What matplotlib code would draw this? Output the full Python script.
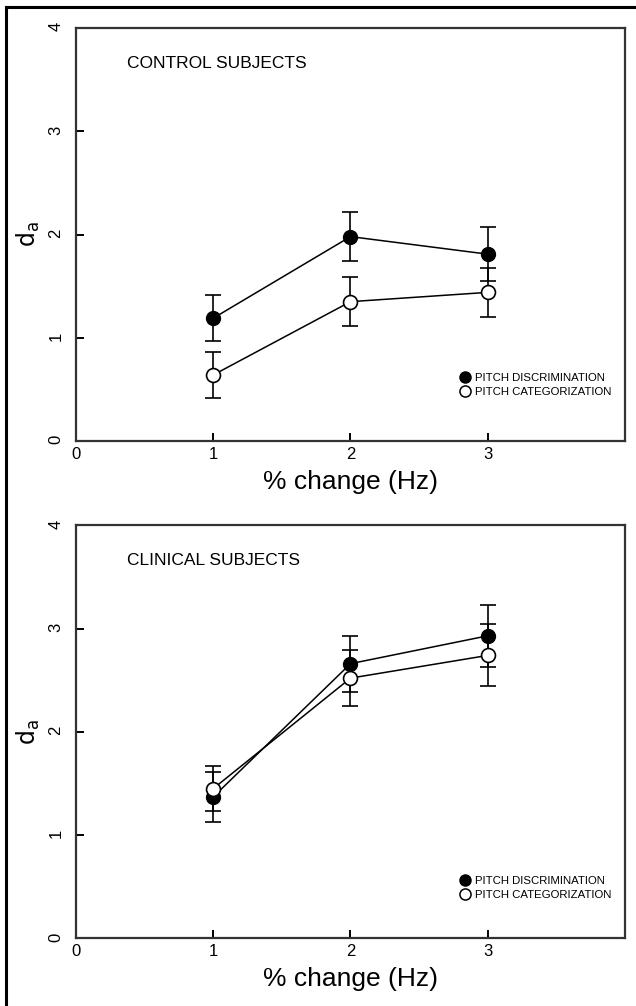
import matplotlib
matplotlib.use("Agg")
from matplotlib import pyplot as plt
from matplotlib import font_manager
from matplotlib.lines import Line2D

# d_a values
change = [1, 2, 3]
control_disc = [1.19, 1.98, 1.81]
control_disc_err = [0.22, 0.235, 0.26]
control_cat = [0.64, 1.35, 1.44]
control_cat_err = [0.22, 0.24, 0.24]

clinical_disc = [1.37, 2.66, 2.93]
clinical_disc_err = [0.24, 0.27, 0.30]
clinical_cat = [1.45, 2.52, 2.74]
clinical_cat_err = [0.22, 0.27, 0.30]

panel_titles = ["CONTROL SUBJECTS", "CLINICAL SUBJECTS"]
series_labels = ["PITCH DISCRIMINATION", "PITCH CATEGORIZATION"]
x_ticks = [0, 1, 2, 3]
y_ticks = [0, 1, 2, 3, 4]

# pick a narrow face if there is one
installed = {f.name for f in font_manager.fontManager.ttflist}
font = "DejaVu Sans"
for name in ["Liberation Sans Narrow", "DejaVu Sans Condensed", "Liberation Sans"]:
    if name in installed:
        font = name
        break
plt.rcParams["font.family"] = [font, "DejaVu Sans"]
plt.rcParams["mathtext.fontset"] = "dejavusans"

fig = plt.figure(figsize=(6.36, 10.06), dpi=100)
ax_top = fig.add_axes([0.1195, 0.5616, 0.8632, 0.4105])
ax_bot = fig.add_axes([0.1195, 0.0673, 0.8632, 0.4105])

panels = [
    (ax_top, panel_titles[0], control_disc, control_disc_err, control_cat, control_cat_err, 0.165),
    (ax_bot, panel_titles[1], clinical_disc, clinical_disc_err, clinical_cat, clinical_cat_err, 0.152),
]

for ax, title, disc, disc_err, cat, cat_err, leg_y in panels:
    ax.errorbar(change, disc, yerr=disc_err, fmt="o-", color="black", mfc="black",
                mec="black", ms=10, lw=1.1, elinewidth=1.2, capsize=6, capthick=1.2,
                label=series_labels[0])
    ax.errorbar(change, cat, yerr=cat_err, fmt="o-", color="black", mfc="white",
                mec="black", mew=1.2, ms=10, lw=1.1, elinewidth=1.2, capsize=6,
                capthick=1.2, label=series_labels[1])

    ax.set_xlim(0, 4)
    ax.set_ylim(0, 4)
    ax.set_xticks(x_ticks)
    ax.set_yticks(y_ticks)
    ax.tick_params(direction="in", length=6, width=1.4, labelsize=12)
    ax.tick_params(axis="x", pad=4)
    ax.tick_params(axis="y", labelrotation=90, pad=9)
    for spine in ax.spines.values():
        spine.set_linewidth(1.6)
        spine.set_color("#333333")

    ax.set_xlabel("% change (Hz)", fontsize=19, labelpad=6)
    ax.set_ylabel(r"$\mathrm{d_a}$", fontsize=17)
    ax.yaxis.set_label_coords(-0.062, 0.5)

    ax.text(0.37, 3.66, title, fontsize=12.5, ha="left", va="center")

    handles = [
        Line2D([], [], ls="none", marker="o", ms=8, mfc="black", mec="black"),
        Line2D([], [], ls="none", marker="o", ms=8, mfc="white", mec="black", mew=1.1),
    ]
    ax.legend(handles, series_labels, loc="upper left", bbox_to_anchor=(0.70, leg_y),
              frameon=False, fontsize=8.2, handlelength=0.9, handletextpad=0.35,
              labelspacing=0.35, borderaxespad=0, borderpad=0)

# outer frame of the page (left and top edges show)
fig.add_artist(Line2D([6 / 636, 6 / 636], [0, 1 - 7 / 1006], transform=fig.transFigure,
                      color="black", lw=2.2))
fig.add_artist(Line2D([6 / 636, 1], [1 - 7 / 1006, 1 - 7 / 1006], transform=fig.transFigure,
                      color="black", lw=2.2))

fig.savefig("out.png", dpi=100)
